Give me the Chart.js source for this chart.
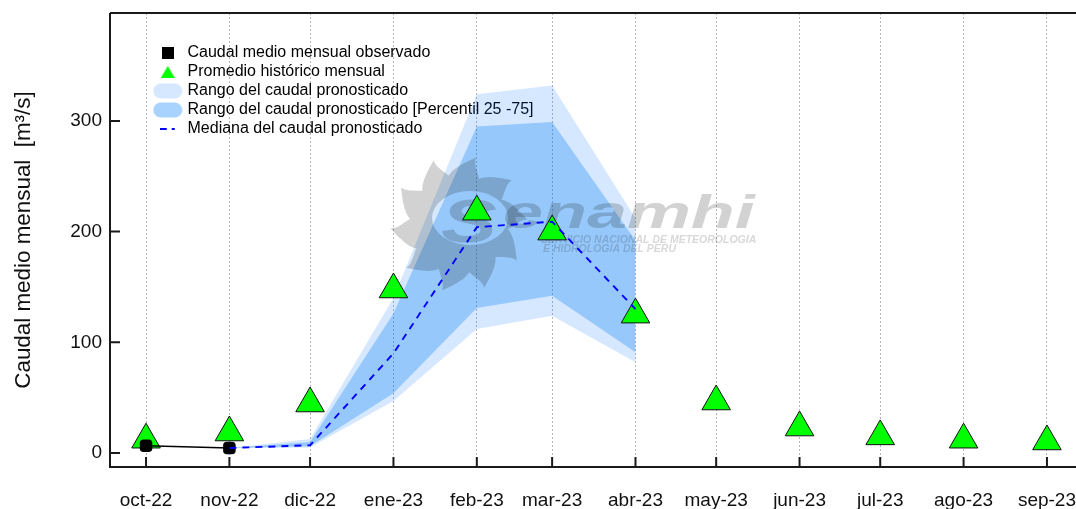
<!DOCTYPE html>
<html><head><meta charset="utf-8">
<style>html,body{margin:0;padding:0;background:#fff}#w{width:1076px;height:509px;position:relative}canvas{display:block}</style>
<script src="https://cdn.jsdelivr.net/npm/chart.js@4/dist/chart.umd.min.js"></script>
</head><body><div id="w"><canvas id="c" width="1076" height="509"></canvas></div>
<script>
const monthLabels = ['oct-22','nov-22','dic-22','ene-23','feb-23','mar-23','abr-23','may-23','jun-23','jul-23','ago-23','sep-23'];
const monthDays = [0,31,61,92,123,151,182,212,243,273,304,335];
const yTicks = [0,100,200,300];
const historico = [12,18.5,44.7,147.7,218,200,125,46.5,23,15,12,10.4];
const observado = [6.6,4.5];
const bandLabels = ['nov-22','dic-22','ene-23','feb-23','mar-23','abr-23'];
const rangoMax = [4.5,12.6,140,324,332,212];
const rangoMin = [4.5,5,47,112,124,82];
const p75 = [4.5,10,126,295,299,192];
const p25 = [4.5,6,54,131,142,91];
const mediana = [4.5,7,90,204,209,130];
const legendTexts = ['Caudal medio mensual observado','Promedio histórico mensual','Rango del caudal pronosticado','Rango del caudal pronosticado [Percentil 25 -75]','Mediana del caudal pronosticado'];
const FONT = '"Liberation Sans", Arial, sans-serif';

const dayOf = l => monthDays[monthLabels.indexOf(l)];
const xy = (labels, vals) => vals.map((v,i)=>({x:dayOf(labels[i]),y:v}));

function sym(w,h,fn){const c=document.createElement('canvas');c.width=w;c.height=h;fn(c.getContext('2d'));return c;}
const pill = col => sym(30,16,g=>{g.fillStyle=col;g.beginPath();g.roundRect(0.5,0.5,29,15,7.5);g.fill();});
const legendSyms = [
  sym(12,12,g=>{g.fillStyle='#000';g.fillRect(0,0,12,12);}),
  sym(14,12,g=>{g.fillStyle='#00ff00';g.beginPath();g.moveTo(7,0);g.lineTo(14,12);g.lineTo(0,12);g.closePath();g.fill();}),
  pill('#d5e8ff'), pill('#a8d3ff'),
  sym(16,4,g=>{g.fillStyle='#0000ff';g.fillRect(0,1,7,2);g.fillRect(12,1,3,2);})
];

const frame = {
  id:'frame',
  afterLayout(ch){ if(ch.legend){ ch.legend.left=153; ch.legend.top=42; } },
  afterDatasetDraw(ch,args){ if(args.index===3) watermark(ch.ctx); },
  afterDraw(ch){
    const g=ch.ctx,a=ch.chartArea,x=ch.scales.x,y=ch.scales.y;
    g.save();g.strokeStyle='#1a1a1a';g.lineWidth=2;g.beginPath();
    g.moveTo(a.left,a.top);g.lineTo(a.right,a.top);
    g.moveTo(a.left,a.top);g.lineTo(a.left,a.bottom);
    g.moveTo(a.left-1,a.bottom);g.lineTo(a.right,a.bottom);
    monthDays.forEach(d=>{const p=x.getPixelForValue(d);g.moveTo(p,a.bottom);g.lineTo(p,a.bottom-10);});
    yTicks.forEach(v=>{const p=y.getPixelForValue(v);g.moveTo(a.left,p);g.lineTo(a.left+10,p);});
    g.stroke();g.restore();
  }
};

function watermark(g){
  g.save();
  g.globalCompositeOperation='multiply';
  g.fillStyle='#d2d2d2';
  const cx=459,cy=224,n=10;
  g.save();
  g.beginPath();g.rect(300,100,400,240);g.ellipse(470,218,38,27,0,0,2*Math.PI);g.clip('evenodd');
  g.beginPath();
  g.moveTo(cx+42,cy);g.arc(cx,cy,42,0,2*Math.PI);g.closePath();
  for(let i=0;i<n;i++){
    const r=i*2*Math.PI/n+0.12,c=Math.cos(r),s=Math.sin(r);
    const P=(a,b)=>[cx+a*c-b*s,cy+a*s+b*c];
    g.moveTo(...P(-15,-35));
    g.bezierCurveTo(...P(-22,-48),...P(-8,-58),...P(9,-68));
    g.bezierCurveTo(...P(6,-58),...P(19,-48),...P(15,-35));
    g.closePath();
  }
  g.fill('nonzero');
  g.restore();
  g.textBaseline='alphabetic';g.textAlign='left';
  g.save();g.translate(441,242);g.scale(1.35,1);g.font='italic bold 62px '+FONT;g.fillText('S',0,0);g.restore();
  g.save();g.translate(503,228);g.scale(1.53,1);g.font='italic bold 47px '+FONT;g.fillText('enamhi',0,0);g.restore();
  g.fillStyle='#d8d8d8';
  g.font='italic bold 10.5px '+FONT;g.textBaseline='middle';
  g.fillText('SERVICIO NACIONAL DE METEOROLOGIA',541,240);
  g.fillText('E HIDROLOGIA DEL PERU',543,249.5);
  g.restore();
}

new Chart(document.getElementById('c'),{
  type:'scatter',
  data:{datasets:[
    {label:'max',data:xy(bandLabels,rangoMax),showLine:true,fill:'+1',backgroundColor:'rgba(0,115,255,0.165)',borderWidth:0,pointRadius:0,tension:0,order:8},
    {label:'min',data:xy(bandLabels,rangoMin),showLine:true,fill:false,borderWidth:0,pointRadius:0,tension:0,order:7},
    {label:'p75',data:xy(bandLabels,p75),showLine:true,fill:'+1',backgroundColor:'rgba(0,124,241,0.296)',borderWidth:0,pointRadius:0,tension:0,order:6},
    {label:'p25',data:xy(bandLabels,p25),showLine:true,fill:false,borderWidth:0,pointRadius:0,tension:0,order:5},
    {label:'hist',data:xy(monthLabels,historico),showLine:false,pointStyle:'triangle',pointRadius:16.5,pointBackgroundColor:'#00ff00',pointBorderColor:'#111',pointBorderWidth:1,order:4},
    {label:'obsline',data:xy(monthLabels,observado),showLine:true,borderColor:'#000',borderWidth:1.6,pointStyle:'rectRounded',pointRadius:7.3,pointBackgroundColor:'#000',pointBorderColor:'#000',pointBorderWidth:0,tension:0,order:3},
    {label:'med',data:xy(bandLabels,mediana),showLine:true,borderColor:'#0000ff',borderWidth:1.9,borderDash:[7,6],pointRadius:0,tension:0,order:2}
  ]},
  plugins:[frame],
  options:{
    responsive:false,animation:false,
    layout:{autoPadding:false,padding:{top:13,right:0,left:0,bottom:0}},
    scales:{
      x:{type:'linear',min:-13.4,max:345.8,
        border:{display:false,dash:[2,2]},
        grid:{color:'#b5b5b5',lineWidth:1,drawTicks:false},
        afterBuildTicks(s){s.ticks=monthDays.map(v=>({value:v}));},
        afterFit(s){s.height=42;s.paddingLeft=0;s.paddingRight=0;},
        ticks:{autoSkip:false,maxRotation:0,minRotation:0,padding:22,color:'#111',font:{family:FONT,size:19},
          callback(v){return monthLabels[monthDays.indexOf(v)];}}
      },
      y:{type:'linear',min:-12.65,max:397.5,
        border:{display:false},
        grid:{display:false,drawTicks:false},
        afterBuildTicks(s){s.ticks=yTicks.map(v=>({value:v}));},
        afterFit(s){s.width=110;s.paddingTop=0;s.paddingBottom=0;},
        title:{display:true,text:'Caudal medio mensual  [m³/s]',color:'#111',font:{family:FONT,size:22.4},padding:{top:10,bottom:30}},
        ticks:{padding:8,color:'#111',font:{family:FONT,size:19},callback(v){return v;}}
      }
    },
    plugins:{
      title:{display:false},tooltip:{enabled:false},
      legend:{display:true,position:'chartArea',align:'start',
        labels:{usePointStyle:true,pointStyleWidth:23.5,font:{family:FONT,size:16},color:'#111',padding:3,
          generateLabels(){return legendTexts.map((t,i)=>({text:t,pointStyle:legendSyms[i],fillStyle:'#000',strokeStyle:'#000',lineWidth:0,datasetIndex:i,hidden:false}));}}
      }
    }
  }
});
</script></body></html>
